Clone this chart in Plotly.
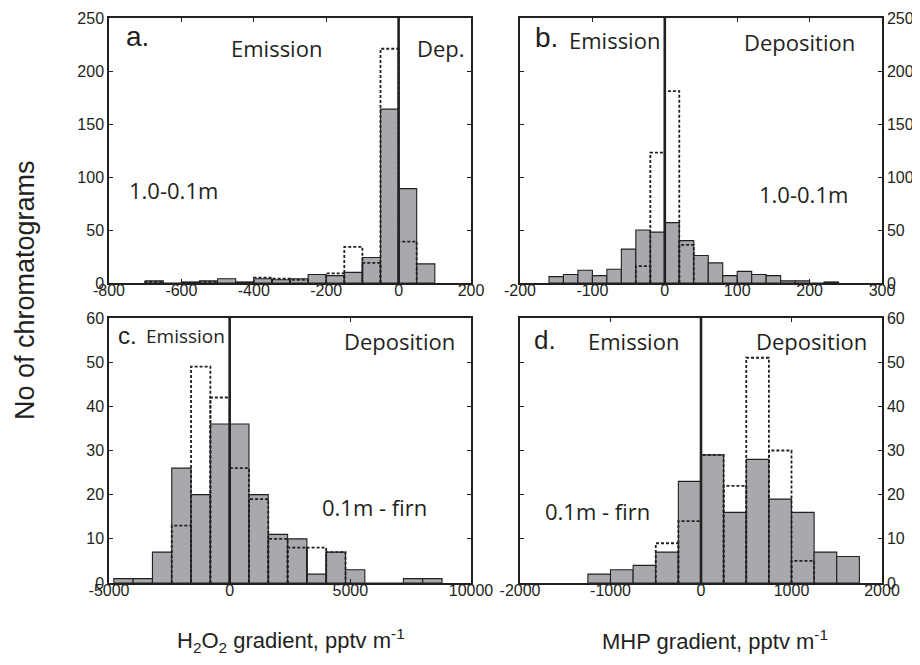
import plotly.graph_objects as go

# bin lower edges and counts
# (solid = grey bars, dot = dotted outline bars)
a_left = [-700, -650, -600, -550, -500, -450, -400, -350, -300, -250, -200, -150, -100, -50, 0, 50]
a_solid = [2, 0, 1, 2, 4, 1, 4, 3, 4, 8, 7, 10, 24, 164, 89, 18]
a_dot = [1, 0, 0, 1, 0, 0, 5, 4, 3, 0, 9, 34, 19, 221, 39, 0]
a_width = 50
a_ticks = [-800, -600, -400, -200, 0, 200]

b_left = [-160, -140, -120, -100, -80, -60, -40, -20, 0, 20, 40, 60, 80, 100, 120, 140, 160, 180, 200, 220]
b_solid = [6, 8, 12, 7, 13, 32, 50, 48, 57, 40, 26, 19, 7, 11, 8, 7, 2, 2, 0, 1]
b_dot = [0, 0, 0, 0, 0, 0, 16, 123, 181, 36, 0, 0, 0, 0, 0, 0, 0, 0, 0, 0]
b_width = 20
b_ticks = [-200, -100, 0, 100, 200, 300]

c_left = [-4800, -4000, -3200, -2400, -1600, -800, 0, 800, 1600, 2400, 3200, 4000, 4800, 5600, 6400, 7200, 8000]
c_solid = [1, 1, 7, 26, 20, 36, 36, 20, 11, 10, 2, 7, 3, 0, 0, 1, 1]
c_dot = [0, 0, 0, 13, 49, 42, 26, 19, 10, 8, 8, 7, 0, 0, 0, 0, 0]
c_width = 800
c_ticks = [-5000, 0, 5000, 10000]

d_left = [-1250, -1000, -750, -500, -250, 0, 250, 500, 750, 1000, 1250, 1500]
d_solid = [2, 3, 4, 7, 23, 29, 16, 28, 19, 16, 7, 6]
d_dot = [0, 0, 0, 9, 14, 29, 22, 51, 30, 5, 0, 0]
d_width = 250
d_ticks = [-2000, -1000, 0, 1000, 2000]

INK = "#231f20"
GREY = "#a7a9ac"
TICK_FONT = dict(family="Liberation Sans", size=16, color=INK)

# the page body has an 8px margin, so the figure starts 8px in from the corner
PAD = 8
W, H = 920 - PAD, 665 - PAD


def px(x):
    return (x - PAD) / W


def py(y):
    return 1 - (y - PAD) / H


panels = [
    # left edges, solid, dotted, width, axis suffix
    (a_left, a_solid, a_dot, a_width, ""),
    (b_left, b_solid, b_dot, b_width, "2"),
    (c_left, c_solid, c_dot, c_width, "3"),
    (d_left, d_solid, d_dot, d_width, "4"),
]

fig = go.Figure()

for left, solid, dot, w, s in panels:
    centers = [x + w / 2 for x in left]
    fig.add_trace(go.Bar(x=centers, y=solid, width=w,
                         marker=dict(color=GREY, line=dict(color=INK, width=1.1)),
                         xaxis="x" + s, yaxis="y" + s, showlegend=False, hoverinfo="skip"))
    # dotted bars drawn as open rectangles
    xs, ys = [], []
    for x0, h in zip(left, dot):
        if h <= 0:
            continue
        xs += [x0, x0, x0 + w, x0 + w, None]
        ys += [0, h, h, 0, None]
    fig.add_trace(go.Scatter(x=xs, y=ys, mode="lines",
                             line=dict(color=INK, width=1.8, dash="3px,2px"),
                             xaxis="x" + s, yaxis="y" + s, showlegend=False, hoverinfo="skip"))
    # emission / deposition divider at zero
    fig.add_shape(type="line", x0=0, x1=0, y0=0, y1=1,
                  xref="x" + s, yref="y" + s + " domain",
                  line=dict(color=INK, width=2.6))

left_dom = [px(109), px(471)]
right_dom = [px(520), px(882)]
top_dom = [py(283), py(18)]
bot_dom = [py(583), py(318)]

common = dict(showline=True, linecolor=INK, linewidth=1.5, mirror="allticks",
              ticks="inside", ticklen=4, tickcolor=INK, tickwidth=1, automargin=False,
              showgrid=False, zeroline=False, tickfont=TICK_FONT, fixedrange=True)


def xticks(vals):
    # plain hyphen minus like the original, not the unicode minus
    return dict(tickmode="array", tickvals=vals, ticktext=[str(v) for v in vals],
                ticklabelstandoff=-8)


fig.update_layout(
    width=W, height=H,
    margin=dict(l=0, r=0, t=0, b=0),
    paper_bgcolor="white", plot_bgcolor="white",
    barmode="overlay",
    xaxis=dict(domain=left_dom, anchor="y", range=[-800, 200], **xticks(a_ticks), **common),
    yaxis=dict(domain=top_dom, anchor="x", range=[0, 250], dtick=50, **common),
    xaxis2=dict(domain=right_dom, anchor="y2", range=[-200, 300], **xticks(b_ticks), **common),
    yaxis2=dict(domain=top_dom, anchor="x2", range=[0, 250], dtick=50, side="right", **common),
    xaxis3=dict(domain=left_dom, anchor="y3", range=[-5000, 10000], **xticks(c_ticks), **common),
    yaxis3=dict(domain=bot_dom, anchor="x3", range=[0, 60], dtick=10, **common),
    xaxis4=dict(domain=right_dom, anchor="y4", range=[-2000, 2000], **xticks(d_ticks), **common),
    yaxis4=dict(domain=bot_dom, anchor="x4", range=[0, 60], dtick=10, side="right", **common),
)

notes = [
    # text, x, y, axis suffix, anchor, font size, kind
    ("a.", -758, 233, "", "left", 28, "letter"),
    ("Emission", -337, 222, "", "center", 22, "text"),
    ("Dep.", 116, 222, "", "center", 22, "text"),
    ("1.0-0.1m", -623, 88, "", "center", 22, "text"),
    ("b.", -182, 232, "2", "left", 28, "letter"),
    ("Emission", -70, 229, "2", "center", 22, "text"),
    ("Deposition", 186, 227, "2", "center", 22, "text"),
    ("1.0-0.1m", 192, 84, "2", "center", 22, "text"),
    ("c.", -4709, 56, "3", "left", 24, "letter"),
    ("Emission", -1843, 56, "3", "center", 19, "text"),
    ("Deposition", 7048, 54.8, "3", "center", 22, "text"),
    ("0.1m - firn", 6009, 17.3, "3", "center", 22, "text"),
    ("d.", -1867, 55, "4", "left", 26, "letter"),
    ("Emission", -751, 54.8, "4", "center", 22, "text"),
    ("Deposition", 1221, 54.8, "4", "center", 22, "text"),
    ("0.1m - firn", -1149, 16.4, "4", "center", 22, "text"),
]
for text, x, y, s, anchor, size, kind in notes:
    fam = "Liberation Sans" if kind == "letter" else "Open Sans"
    fig.add_annotation(text=text, x=x, y=y, xref="x" + s, yref="y" + s,
                       xanchor=anchor, yanchor="middle", showarrow=False,
                       font=dict(family=fam, size=size, color=INK))

TITLE_FONT = dict(family="Liberation Sans", size=22, color=INK)
fig.add_annotation(text="No of chromatograms", x=px(25), y=py(290),
                   xref="paper", yref="paper", textangle=-90, showarrow=False,
                   xanchor="center", yanchor="middle",
                   font=dict(family="Liberation Sans", size=27, color=INK))
fig.add_annotation(text="H<sub>2</sub>O<sub>2</sub> gradient, pptv m<sup>-1</sup>",
                   x=px(291), y=py(640), xref="paper", yref="paper",
                   showarrow=False, xanchor="center", yanchor="middle", font=TITLE_FONT)
fig.add_annotation(text="MHP gradient, pptv m<sup>-1</sup>",
                   x=px(715), y=py(640), xref="paper", yref="paper",
                   showarrow=False, xanchor="center", yanchor="middle", font=TITLE_FONT)

fig.write_html("out.html")
